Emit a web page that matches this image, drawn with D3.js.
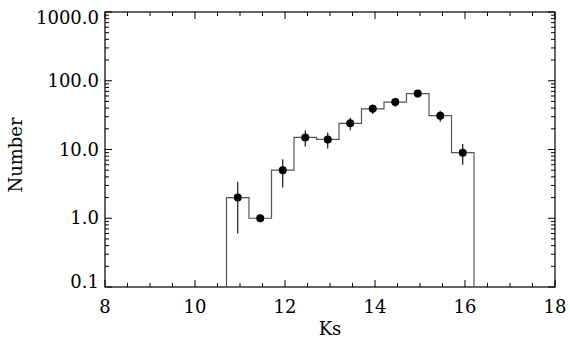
<!DOCTYPE html>
<html>
<head>
<meta charset="utf-8">
<script src="https://cdn.jsdelivr.net/npm/d3@7"></script>
<style>
  body { margin: 0; background: #fff; }
  text { font-family: "DejaVu Serif", serif; }
</style>
</head>
<body>
<div id="wrapper"></div>
<script>
// histogram bins (lower edge), counts and error bars
var binEdges = [10.7, 11.2, 11.7, 12.2, 12.7, 13.2, 13.7, 14.2, 14.7, 15.2, 15.7]
var binWidth = 0.5
var counts = [2, 1, 5, 15, 14, 24, 39, 49, 65, 31, 9]
var errors = [1.4, 1.0, 2.2, 3.9, 3.7, 4.9, 6.2, 7.0, 8.1, 5.6, 3.0]

var xTicks = [8, 10, 12, 14, 16, 18]
var yTicks = [0.1, 1, 10, 100, 1000]
var yTickLabels = ["0.1", "1.0", "10.0", "100.0", "1000.0"]

var margin = { top: 12, right: 15, bottom: 55, left: 105 },
    width = 570 - margin.left - margin.right,
    height = 342 - margin.top - margin.bottom

var svg = d3.select("#wrapper")
    .append("svg")
    .attr("width", 570)
    .attr("height", 342)

var bounds = svg.append("g")
    .attr("transform", "translate(" + margin.left + "," + margin.top + ")")

var xScale = d3.scaleLinear()
    .domain([8, 18])
    .range([0, width])

var yScale = d3.scaleLog()
    .domain([0.1, 1000])
    .range([height, 0])

// minor ticks
var xMinor = d3.range(8, 18.01, 0.5).filter(d => xTicks.indexOf(d) < 0)
var yMinor = []
for (var e = -1; e < 3; e++) {
    for (var k = 2; k <= 9; k++) yMinor.push(k * Math.pow(10, e))
}

var ink = "#000"

// frame
bounds.append("rect")
    .attr("width", width)
    .attr("height", height)
    .attr("fill", "none")
    .attr("stroke", ink)
    .attr("stroke-width", 1.2)

function tickLines(sel, data, isX, len, side) {
    sel.selectAll(null)
        .data(data)
        .enter().append("line")
        .attr("x1", d => isX ? xScale(d) : (side == 0 ? 0 : width))
        .attr("x2", d => isX ? xScale(d) : (side == 0 ? len : width - len))
        .attr("y1", d => isX ? (side == 0 ? height : 0) : yScale(d))
        .attr("y2", d => isX ? (side == 0 ? height - len : len) : yScale(d))
        .attr("stroke", ink)
        .attr("stroke-width", 1)
}

var ticks = bounds.append("g")
tickLines(ticks, xTicks, true, 7, 0)
tickLines(ticks, xTicks, true, 7, 1)
tickLines(ticks, xMinor, true, 4, 0)
tickLines(ticks, xMinor, true, 4, 1)
tickLines(ticks, yTicks, false, 7, 0)
tickLines(ticks, yTicks, false, 7, 1)
tickLines(ticks, yMinor, false, 4, 0)
tickLines(ticks, yMinor, false, 4, 1)

// tick labels
bounds.append("g").selectAll("text")
    .data(xTicks)
    .enter().append("text")
    .attr("x", d => xScale(d))
    .attr("y", height + 26)
    .attr("text-anchor", "middle")
    .attr("font-size", 18)
    .text(d => d)

// end labels are nudged inside the frame, like the original
bounds.append("g").selectAll("text")
    .data(yTicks)
    .enter().append("text")
    .attr("x", -6)
    .attr("y", (d, i) => yScale(d) + (i == 0 ? 1 : i == yTicks.length - 1 ? 12 : 6))
    .attr("text-anchor", "end")
    .attr("font-size", 18)
    .text((d, i) => yTickLabels[i])

// axis titles
svg.append("text")
    .attr("x", margin.left + xScale(13))
    .attr("y", 335)
    .attr("text-anchor", "middle")
    .attr("font-size", 18)
    .text("Ks")

svg.append("text")
    .attr("transform", "translate(22,155) rotate(-90)")
    .attr("text-anchor", "middle")
    .attr("font-size", 18)
    .text("Number")

// histogram steps
var stepPts = [[binEdges[0], 0.1]]
binEdges.forEach((b, i) => {
    stepPts.push([b, counts[i]])
    stepPts.push([b + binWidth, counts[i]])
})
stepPts.push([binEdges[binEdges.length - 1] + binWidth, 0.1])

var lineGenerator = d3.line()
    .x(d => xScale(d[0]))
    .y(d => yScale(d[1]))

bounds.append("path")
    .attr("d", lineGenerator(stepPts))
    .attr("fill", "none")
    .attr("stroke", "#555")
    .attr("stroke-width", 1.2)

// error bars
bounds.append("g").selectAll("line")
    .data(binEdges.map((b, i) => ({ x: b + binWidth / 2, y: counts[i], e: errors[i] })).filter(d => d.y - d.e > 0))
    .enter().append("line")
    .attr("x1", d => xScale(d.x))
    .attr("x2", d => xScale(d.x))
    .attr("y1", d => yScale(d.y + d.e))
    .attr("y2", d => yScale(d.y - d.e))
    .attr("stroke", ink)
    .attr("stroke-width", 1.1)

// points
bounds.append("g").selectAll("circle")
    .data(binEdges)
    .enter().append("circle")
    .attr("cx", d => xScale(d + binWidth / 2))
    .attr("cy", (d, i) => yScale(counts[i]))
    .attr("r", 4)
    .attr("fill", ink)
</script>
</body>
</html>
